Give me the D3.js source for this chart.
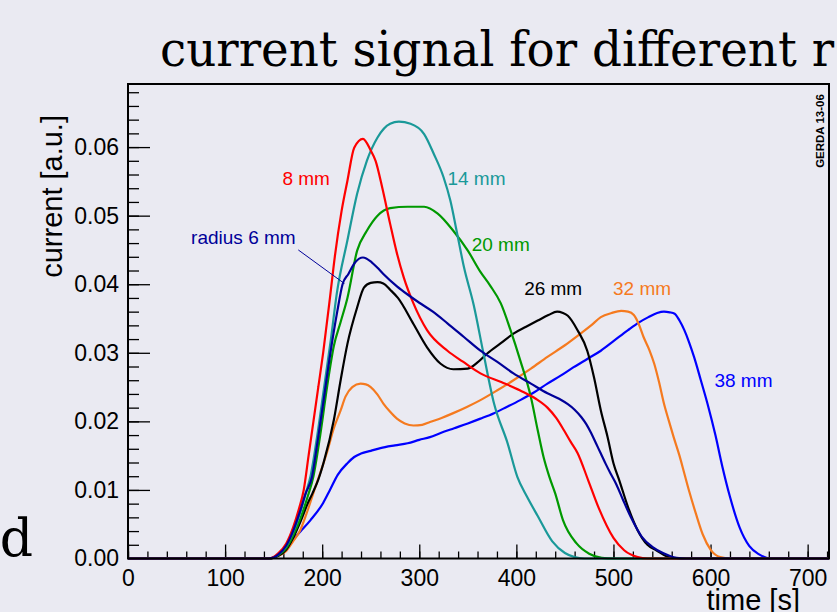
<!DOCTYPE html>
<html>
<head>
<meta charset="utf-8">
<script src="https://cdn.jsdelivr.net/npm/d3@7"></script>
<style>
  body { margin: 0; background: #eaeaf2; }
  svg { display: block; }
</style>
</head>
<body>
<div id="chart"></div>
<script>
// time [s], current [a.u.] pairs
const r6 = [[0,0],[145,0],[155,0.0006],[163,0.0019],[170,0.004],[177,0.0068],[183,0.0095],[189.5,0.0119],[195,0.0168],[201,0.0226],[208.5,0.030],[215.5,0.036],[221,0.040],[227,0.0415],[234,0.0432],[242,0.0439],[251,0.0432],[257,0.0424],[263,0.0415],[277,0.0397],[288,0.0385],[300,0.0373],[314,0.036],[329,0.0343],[346,0.0323],[363,0.0303],[380,0.0287],[397,0.027],[415,0.0255],[432,0.0241],[444,0.0233],[453,0.0225],[460,0.0217],[467,0.0206],[472,0.0196],[477,0.0183],[482,0.0168],[487,0.0153],[492,0.0138],[497,0.0124],[503,0.0108],[510,0.0085],[518,0.006],[529,0.0032],[540,0.0017],[551,0.0008],[565,0.0001],[575,0],[722,0]];
const r8 = [[0,0],[145,0],[155,0.0008],[163,0.0022],[170,0.0045],[176,0.0072],[181,0.010],[186,0.015],[191,0.020],[196,0.025],[201,0.030],[208,0.038],[213,0.044],[220,0.0507],[226,0.0551],[233,0.0599],[242,0.0612],[250,0.0595],[255,0.058],[262,0.054],[270,0.0488],[277,0.0445],[284,0.041],[294,0.0372],[308,0.0333],[329,0.0303],[345,0.0287],[363,0.027],[385,0.0257],[404,0.0245],[420,0.0233],[432,0.022],[441,0.0205],[449,0.0187],[456,0.017],[463,0.0154],[474,0.0114],[485,0.0073],[500,0.003],[511,0.0012],[525,0.0002],[535,0],[722,0]];
const r14 = [[0,0],[145,0],[155,0.0006],[163,0.0018],[170,0.0038],[177,0.0065],[183,0.0095],[188,0.012],[195,0.018],[202,0.025],[209,0.032],[215,0.0386],[226,0.0464],[236,0.0532],[246,0.058],[257,0.0614],[270,0.0634],[279,0.0637],[291,0.0634],[305,0.0619],[315,0.059],[325,0.0556],[332,0.0522],[339,0.0474],[346,0.0425],[356,0.037],[366,0.030],[377,0.0226],[391,0.0168],[401,0.0119],[411,0.009],[422,0.0062],[437,0.0025],[450,0.0008],[460,0.0002],[470,0],[722,0]];
const r20 = [[0,0],[145,0],[155,0.0005],[163,0.0015],[170,0.0033],[178,0.006],[185,0.009],[191,0.012],[198,0.018],[205,0.025],[212,0.031],[219,0.0345],[226,0.038],[236,0.0449],[246,0.0478],[257,0.050],[270,0.0511],[288,0.0513],[305,0.0513],[319,0.0503],[335,0.0478],[350,0.0449],[363,0.0418],[373,0.0398],[384,0.0372],[394,0.0333],[404,0.0289],[415,0.0235],[422,0.0187],[428,0.0148],[434,0.0119],[440,0.0095],[448,0.0056],[462,0.0022],[475,0.0007],[488,0.0001],[500,0],[722,0]];
const r26 = [[0,0],[145,0],[155,0.0004],[163,0.0013],[170,0.003],[178,0.0055],[185,0.008],[190,0.0095],[196,0.0115],[201.5,0.014],[212,0.0202],[219,0.026],[226,0.0313],[236,0.0366],[243,0.0395],[250,0.0402],[257,0.0403],[263,0.0401],[270,0.0392],[278,0.038],[294,0.0342],[308,0.0308],[322,0.0284],[335,0.0276],[350,0.0277],[360,0.0286],[370,0.0299],[384,0.0314],[397,0.0328],[410,0.0338],[422,0.0347],[433,0.0355],[442,0.036],[448,0.0358],[453,0.0354],[463,0.0333],[473,0.0303],[480,0.0264],[487,0.0216],[494,0.0177],[500,0.0139],[506,0.0114],[515,0.0075],[525,0.0041],[535,0.002],[544,0.0012],[555,0.0003],[565,0],[722,0]];
const r32 = [[0,0],[145,0],[155,0.0004],[163,0.0011],[170,0.0025],[177,0.004],[185,0.007],[192,0.010],[198,0.0125],[205,0.0155],[212,0.019],[219,0.0216],[224,0.0236],[231,0.025],[239.5,0.0255],[245,0.0254],[250,0.025],[257,0.0239],[263,0.0226],[270,0.0214],[277,0.0204],[285,0.0197],[294,0.0194],[303,0.0195],[311,0.0199],[323,0.0205],[335,0.0212],[349,0.0221],[363,0.0231],[380,0.0245],[397,0.026],[415,0.0277],[432,0.0294],[450,0.0311],[466,0.0328],[477,0.034],[487,0.0352],[498,0.0358],[508,0.0361],[515,0.036],[521,0.0355],[526,0.0342],[531,0.0323],[537,0.0304],[542,0.0284],[547,0.0257],[552,0.0226],[557,0.0201],[562,0.0177],[568,0.015],[573,0.0124],[578,0.0098],[585,0.0065],[592,0.0035],[600,0.0013],[610,0.0002],[620,0],[722,0]];
const r38 = [[0,0],[146,0],[155,0.0006],[167,0.0023],[178,0.004],[188,0.0056],[201,0.0081],[208,0.010],[216,0.0122],[226,0.0139],[233,0.0148],[240,0.0153],[250,0.0157],[260,0.0161],[275,0.0165],[288,0.0168],[300,0.0173],[311,0.0177],[322,0.0183],[336,0.019],[350,0.0197],[363,0.0204],[377,0.0212],[390,0.0221],[404,0.0231],[418,0.0242],[432,0.0255],[446,0.0267],[459,0.0279],[473,0.0291],[487,0.0303],[501,0.0318],[515,0.0333],[526,0.0344],[536,0.0352],[545,0.0358],[552,0.036],[558,0.0359],[563,0.0357],[568,0.0347],[573,0.0333],[578,0.0315],[583,0.0294],[590,0.026],[597,0.0225],[605,0.018],[612,0.0135],[620,0.009],[630,0.0045],[640,0.0018],[650,0.0006],[662,0],[722,0]];

const seriesData = [r38, r32, r26, r20, r14, r8, r6];
const seriesColors = ["#0000ff", "#f57a1f", "#000000", "#009900", "#1a9999", "#ff0000", "#000099"];

const labelText = ["radius 6 mm", "8 mm", "14 mm", "20 mm", "26 mm", "32 mm", "38 mm"];
const labelTime = [65, 159, 329, 354, 408, 499.5, 604];
const labelCurrent = [0.0459, 0.0544, 0.0544, 0.0449, 0.0385, 0.0385, 0.025];
const labelColors = ["#000099", "#ff0000", "#1a9999", "#009900", "#000000", "#f57a1f", "#0000ff"];
const pointerLine = [[175.4, 0.0450], [222.9, 0.0401]];

const xMajor = d3.range(0, 701, 100);
const xMinor = d3.range(0, 722, 20);
const yMajor = d3.range(0, 0.0601 + 0.001, 0.01);
const yMinor = d3.range(0, 0.0691, 0.002);

const W = 837, H = 612;
const svg = d3.select("#chart").append("svg")
  .attr("width", W).attr("height", H);

svg.append("rect").attr("width", W).attr("height", H).attr("fill", "#eaeaf2");

const x = d3.scaleLinear().domain([0, 722]).range([128, 829]);
const y = d3.scaleLinear().domain([0, 0.0692]).range([558.5, 84]);

// title (cut by the page edge in the original)
svg.append("text")
  .attr("x", 160).attr("y", 66)
  .attr("font-family", "DejaVu Serif")
  .attr("font-size", 48)
  .attr("textLength", 674)
  .attr("lengthAdjust", "spacingAndGlyphs")
  .attr("fill", "#000")
  .text("current signal for different r");

svg.append("text")
  .attr("x", 33).attr("y", 556)
  .attr("text-anchor", "end")
  .attr("font-family", "DejaVu Serif")
  .attr("font-size", 52)
  .attr("fill", "#000")
  .text("d");

const font = "'Liberation Sans', Arial, sans-serif";

// axes
const yAxis = svg.append("g").attr("transform", "translate(128,0)")
  .call(d3.axisLeft(y).tickValues(yMajor).tickSize(-22).tickPadding(9).tickFormat(d3.format(".2f")));
svg.append("g").attr("transform", "translate(128,0)")
  .call(d3.axisLeft(y).tickValues(yMinor).tickSize(-11).tickFormat(""));

const xAxis = svg.append("g").attr("transform", "translate(0,558.5)")
  .call(d3.axisBottom(x).tickValues(xMajor).tickSize(-14).tickPadding(11));
svg.append("g").attr("transform", "translate(0,558.5)")
  .call(d3.axisBottom(x).tickValues(xMinor).tickSize(-7).tickFormat(""));

svg.selectAll(".domain").remove();
svg.selectAll(".tick line").attr("stroke", "#000").attr("stroke-width", 1.3);
svg.selectAll(".tick text")
  .attr("font-family", font).attr("font-size", 23).attr("fill", "#000");

// curves
const line = d3.line()
  .x(d => x(d[0]))
  .y(d => y(d[1]))
  .curve(d3.curveMonotoneX);

const plot = svg.append("g");
plot.selectAll("path.curve")
  .data(seriesData)
  .join("path")
  .attr("class", "curve")
  .attr("d", line)
  .attr("fill", "none")
  .attr("stroke", (d, i) => seriesColors[i])
  .attr("stroke-width", 2.2)
  .attr("stroke-linejoin", "round");

// frame
svg.append("rect")
  .attr("x", 128).attr("y", 84)
  .attr("width", 829 - 128).attr("height", 558.5 - 84)
  .attr("fill", "none").attr("stroke", "#000").attr("stroke-width", 2);

// labels on curves
svg.selectAll("text.lab")
  .data(labelText)
  .join("text")
  .attr("class", "lab")
  .attr("x", (d, i) => x(labelTime[i]))
  .attr("y", (d, i) => y(labelCurrent[i]))
  .attr("font-family", font)
  .attr("font-size", 19)
  .attr("fill", (d, i) => labelColors[i])
  .text(d => d);

svg.append("path")
  .attr("d", d3.line().x(d => x(d[0])).y(d => y(d[1]))(pointerLine))
  .attr("stroke", "#000099").attr("stroke-width", 1).attr("fill", "none");

// axis titles
svg.append("text")
  .attr("transform", "translate(62,115) rotate(-90)")
  .attr("text-anchor", "end")
  .attr("font-family", font).attr("font-size", 29)
  .attr("fill", "#000")
  .text("current [a.u.]");

svg.append("text")
  .attr("x", 800).attr("y", 610)
  .attr("text-anchor", "end")
  .attr("font-family", font).attr("font-size", 29)
  .attr("fill", "#000")
  .text("time [s]");

svg.append("text")
  .attr("transform", "translate(824,131) rotate(-90)")
  .attr("text-anchor", "middle")
  .attr("font-family", font).attr("font-size", 11.5)
  .attr("font-weight", "bold")
  .attr("fill", "#000")
  .text("GERDA 13-06");
</script>
</body>
</html>
